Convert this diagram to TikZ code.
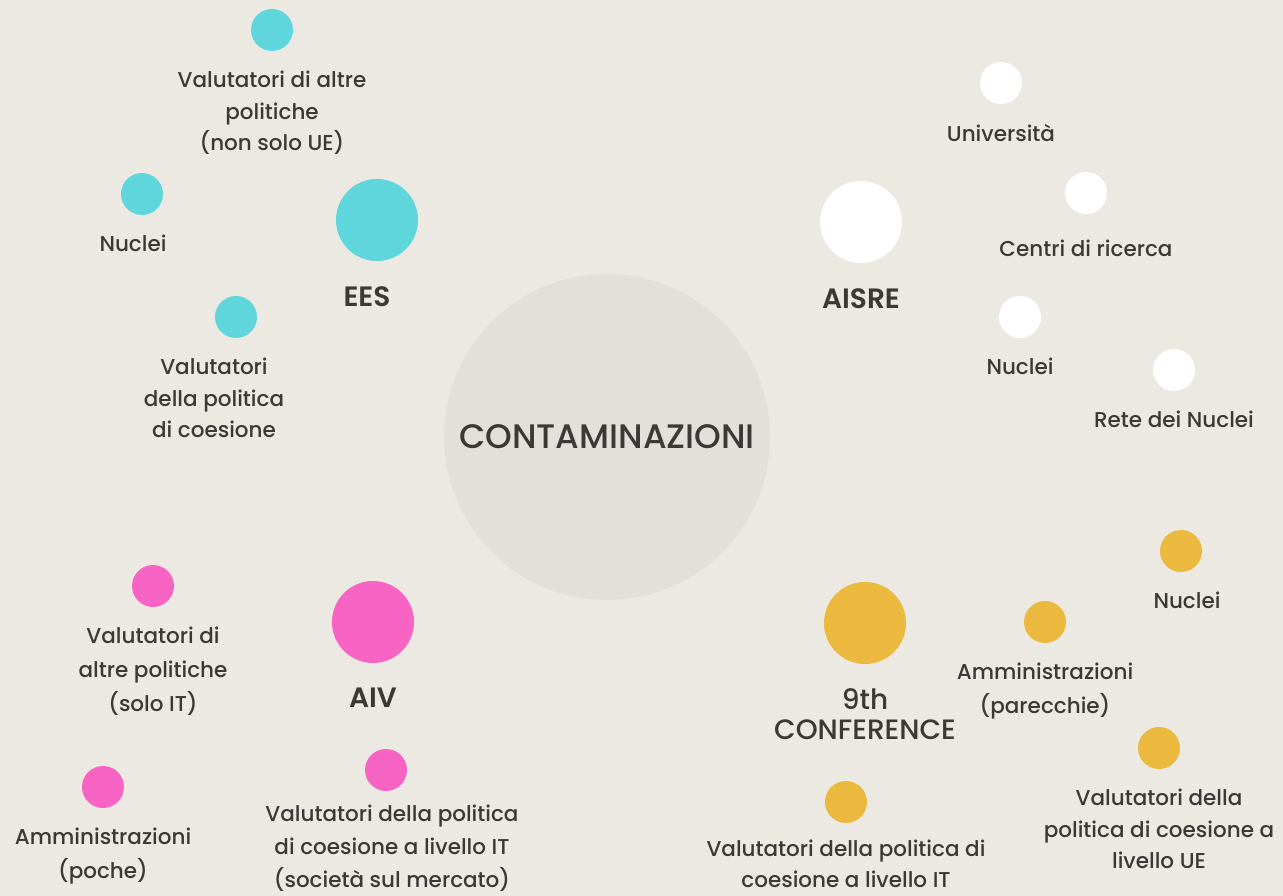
\documentclass[tikz,border=0pt]{standalone}
\usepackage{fontspec}
\setmainfont{Poppins}[UprightFont={* Medium}, BoldFont={* SemiBold}]
\usepackage{tikz}
\usetikzlibrary{positioning}
\definecolor{paper}{HTML}{ECE9E2}
\definecolor{hubgrey}{HTML}{E2E0DB}
\definecolor{eescol}{HTML}{5ED6DC}
\definecolor{aivcol}{HTML}{F864C3}
\definecolor{confcol}{HTML}{EBB93D}
\definecolor{ink}{HTML}{3A3936}
\tikzset{
    %Define style for dots
    dot/.style={
           circle,
           minimum size=42pt,
           inner sep=0pt},
    bigdot/.style={
           dot,
           minimum size=82pt},
    % Define style for labels
    lbl/.style={
           text=ink,
           align=center,
           inner sep=0pt,
           font=\fontsize{21.5}{31.5}\selectfont},
    head/.style={
           lbl,
           font=\fontsize{28}{30}\selectfont\bfseries}
}

\begin{document}
\begin{tikzpicture}[x=1pt, y=-1pt, node distance=20pt]
	% Styles
	\tikzstyle{ees} = [dot, fill=eescol]
	\tikzstyle{aisre} = [dot, fill=white]
	\tikzstyle{aiv} = [dot, fill=aivcol]
	\tikzstyle{conf} = [dot, fill=confcol]

	\fill[paper] (0,0) rectangle (1283,896);
	\useasboundingbox (0,0) rectangle (1283,896);

	% Centre
	\node[circle, fill=hubgrey, minimum size=326pt, inner sep=0pt, text=ink,
	      font=\fontsize{34}{36}\selectfont] (hub) at (607,437) {CONTAMINAZIONI};

	% EES
	\node[ees, bigdot] (ees) at (377,220) {};
	\node[head, below=25pt of ees, xshift=-10pt] (eesT) {EES};
	\node[ees] (eesAltre) at (272,30) {};
	\node[lbl, below=of eesAltre] (eesAltreT) {Valutatori di altre\\politiche\\(non solo UE)};
	\node[ees] (eesNuclei) at (142,194) {};
	\node[lbl, below=of eesNuclei, xshift=-9pt] (eesNucleiT) {Nuclei};
	\node[ees] (eesCoes) at (236,317) {};
	\node[lbl, below=of eesCoes, xshift=-22pt] (eesCoesT) {Valutatori\\della politica\\di coesione};

	% AISRE
	\node[aisre, bigdot] (aisre) at (861,222) {};
	\node[head, below=25pt of aisre] (aisreT) {AISRE};
	\node[aisre] (aisreUni) at (1001,83) {};
	\node[lbl, below=of aisreUni] (aisreUniT) {Università};
	\node[aisre] (aisreCentri) at (1086,193) {};
	\node[lbl, below=26pt of aisreCentri] (aisreCentriT) {Centri di ricerca};
	\node[aisre] (aisreNuclei) at (1020,317) {};
	\node[lbl, below=of aisreNuclei] (aisreNucleiT) {Nuclei};
	\node[aisre] (aisreRete) at (1174,370) {};
	\node[lbl, below=of aisreRete] (aisreReteT) {Rete dei Nuclei};

	% AIV
	\node[aiv, bigdot] (aiv) at (373,622) {};
	\node[head, below=25pt of aiv] (aivT) {AIV};
	\node[aiv] (aivAltre) at (153,586) {};
	\node[lbl, below=of aivAltre, font=\fontsize{21.5}{34}\selectfont] (aivAltreT) {Valutatori di\\altre politiche\\(solo IT)};
	\node[aiv] (aivAmm) at (103,787) {};
	\node[lbl, below=of aivAmm, font=\fontsize{21.5}{34}\selectfont] (aivAmmT) {Amministrazioni\\(poche)};
	\node[aiv] (aivCoes) at (386,770) {};
	\node[lbl, below=14pt of aivCoes, xshift=6pt, font=\fontsize{21.5}{33}\selectfont] (aivCoesT) {Valutatori della politica\\di coesione a livello IT\\(società sul mercato)};

	% 9th Conference
	\node[conf, bigdot] (conf) at (865,623) {};
	\node[lbl, below=24pt of conf, font=\fontsize{28}{30}\selectfont] (confT) {9th\\CONFERENCE};
	\node[conf] (confNuclei) at (1181,551) {};
	\node[lbl, below=of confNuclei, xshift=6pt] (confNucleiT) {Nuclei};
	\node[conf] (confAmm) at (1045,622) {};
	\node[lbl, below=of confAmm, font=\fontsize{21.5}{34}\selectfont] (confAmmT) {Amministrazioni\\(parecchie)};
	\node[conf] (confUe) at (1159,748) {};
	\node[lbl, below=of confUe] (confUeT) {Valutatori della\\politica di coesione a\\livello UE};
	\node[conf] (confIt) at (846,802) {};
	\node[lbl, below=17pt of confIt, font=\fontsize{21.5}{31}\selectfont] (confItT) {Valutatori della politica di\\coesione a livello IT};
\end{tikzpicture}
\end{document}
